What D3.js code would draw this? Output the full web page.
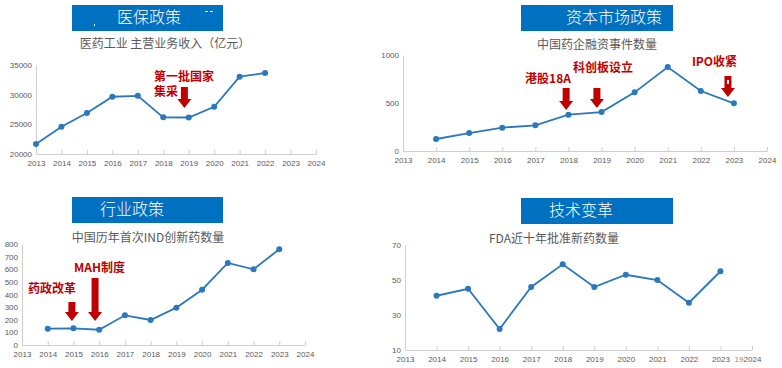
<!DOCTYPE html>
<html>
<head>
<meta charset="utf-8">
<script src="https://cdn.jsdelivr.net/npm/d3@7"></script>
<style>
  body { margin: 0; background: #fff; }
  svg { display: block; }
</style>
</head>
<body>
<svg id="chart" width="782" height="368"></svg>
<script>
// data
const years = [2013, 2014, 2015, 2016, 2017, 2018, 2019, 2020, 2021, 2022, 2023, 2024];

const revenueYears = [2013, 2014, 2015, 2016, 2017, 2018, 2019, 2020, 2021, 2022];
const revenueValues = [21700, 24600, 26900, 29650, 29800, 26180, 26150, 27970, 33030, 33650];
const revenueTicks = [20000, 25000, 30000, 35000];

const financeYears = [2014, 2015, 2016, 2017, 2018, 2019, 2020, 2021, 2022, 2023];
const financeValues = [125, 187, 243, 267, 378, 406, 611, 875, 625, 497];
const financeTicks = [0, 500, 1000];

const indYears = [2014, 2015, 2016, 2017, 2018, 2019, 2020, 2021, 2022, 2023];
const indValues = [129, 132, 121, 235, 198, 296, 438, 650, 600, 758];
const indTicks = [0, 100, 200, 300, 400, 500, 600, 700, 800];

const fdaYears = [2014, 2015, 2016, 2017, 2018, 2019, 2020, 2021, 2022, 2023];
const fdaValues = [41, 45, 22, 46, 59, 46, 53, 50, 37, 55];
const fdaTicks = [10, 30, 50, 70];

const panelTitles = ["医保政策", "资本市场政策", "行业政策", "技术变革"];
const chartTitles = [
  "医药工业 主营业务收入（亿元）",
  "中国药企融资事件数量",
  "中国历年首次IND创新药数量",
  "FDA近十年批准新药数量"
];

// annotations: [year, value] in chart units
const revenueNotes = [
  { text: "第一批国家", x: 2017.64, y: 32900 },
  { text: "集采", x: 2017.64, y: 30300 }
];
const revenueArrows = [{ x: 2018.83, top: 31300, bottom: 27750 }];

const financeNotes = [
  { text: "港股18A", x: 2016.69, y: 740 },
  { text: "科创板设立", x: 2018.14, y: 854 },
  { text: "IPO收紧", x: 2021.73, y: 917 }
];
const financeArrows = [
  { x: 2017.93, top: 656, bottom: 427 },
  { x: 2018.86, top: 656, bottom: 448 },
  { x: 2022.82, top: 781, bottom: 562 }
];

const indNotes = [
  { text: "药政改革", x: 2013.23, y: 436 },
  { text: "MAH制度", x: 2015.02, y: 602 }
];
const indArrows = [
  { x: 2014.94, top: 341, bottom: 190 },
  { x: 2015.84, top: 531, bottom: 190 }
];

const svg = d3.select("#chart");
const blue = "#2a78bd";
const red = "#c00000";
const axisColor = "#cfcfcf";
const labelColor = "#595959";
const cjk = "'Noto Sans CJK SC', 'Noto Sans', sans-serif";
const latin = "'Liberation Sans', Arial, sans-serif";

function drawPanel(opt) {
  const xScale = d3.scaleLinear().domain([2013, 2024]).range([opt.left, opt.right]);
  const yScale = d3
    .scaleLinear()
    .domain([opt.ticks[0], opt.ticks[opt.ticks.length - 1]])
    .range([opt.bottom, opt.top]);

  const g = svg.append("g");

  // title box
  g.append("rect")
    .attr("x", opt.box[0])
    .attr("y", opt.box[1])
    .attr("width", opt.box[2])
    .attr("height", opt.box[3])
    .attr("fill", "#0070c0");
  g.append("text")
    .attr("x", opt.boxTextX)
    .attr("y", opt.box[1] + opt.box[3] / 2 + 1)
    .attr("text-anchor", "middle")
    .attr("dominant-baseline", "middle")
    .attr("fill", "#fff")
    .style("font-family", cjk)
    .style("font-weight", "300")
    .style("font-size", "16px")
    .text(opt.panelTitle);

  g.append("text")
    .attr("x", opt.titleX)
    .attr("y", opt.titleY)
    .attr("text-anchor", "middle")
    .attr("dominant-baseline", "middle")
    .attr("fill", labelColor)
    .style("font-family", cjk)
    .style("font-size", "12px")
    .text(opt.chartTitle);

  // axes
  const xAxis = d3
    .axisBottom(xScale)
    .tickValues(years)
    .tickFormat(d3.format("d"))
    .tickSizeInner(-4)
    .tickSizeOuter(0)
    .tickPadding(6);
  const gx = g.append("g")
    .attr("transform", "translate(0," + opt.bottom + ")")
    .call(xAxis);

  const yAxis = d3
    .axisLeft(yScale)
    .tickValues(opt.ticks)
    .tickFormat(d3.format("d"))
    .tickSize(0)
    .tickPadding(4);
  const gy = g.append("g")
    .attr("transform", "translate(" + opt.left + ",0)")
    .call(yAxis);

  [gx, gy].forEach(a => {
    a.selectAll("path, line").attr("stroke", axisColor);
    a.selectAll("text")
      .attr("fill", labelColor)
      .style("font-family", latin)
      .style("font-size", "8px");
  });

  // line + points
  const points = opt.xs.map((x, i) => [x, opt.values[i]]);
  const line = d3.line().x(d => xScale(d[0])).y(d => yScale(d[1]));
  g.append("path")
    .datum(points)
    .attr("d", line)
    .attr("fill", "none")
    .attr("stroke", blue)
    .attr("stroke-width", 1.8);
  g.selectAll("circle")
    .data(points)
    .enter()
    .append("circle")
    .attr("cx", d => xScale(d[0]))
    .attr("cy", d => yScale(d[1]))
    .attr("r", 3)
    .attr("fill", blue);

  // annotations
  (opt.notes || []).forEach(n => {
    g.append("text")
      .attr("x", xScale(n.x))
      .attr("y", yScale(n.y))
      .attr("dominant-baseline", "middle")
      .attr("fill", red)
      .style("font-family", cjk)
      .style("font-weight", "bold")
      .style("font-size", "12px")
      .text(n.text);
  });
  (opt.arrows || []).forEach(a => {
    const cx = xScale(a.x),
      y0 = yScale(a.top),
      y1 = yScale(a.bottom),
      sw = 3.5,
      hw = 7,
      hh = 9;
    g.append("path")
      .attr("d",
        "M" + (cx - sw) + "," + y0 +
        "L" + (cx + sw) + "," + y0 +
        "L" + (cx + sw) + "," + (y1 - hh) +
        "L" + (cx + hw) + "," + (y1 - hh) +
        "L" + cx + "," + y1 +
        "L" + (cx - hw) + "," + (y1 - hh) +
        "L" + (cx - sw) + "," + (y1 - hh) + "Z")
      .attr("fill", red);
  });

  return { xScale, yScale, g };
}

const p1 = drawPanel({
  left: 36, right: 316, bottom: 154, top: 65,
  ticks: revenueTicks, xs: revenueYears, values: revenueValues,
  box: [72, 5, 151, 26], boxTextX: 149, panelTitle: panelTitles[0],
  titleX: 165, titleY: 45, chartTitle: chartTitles[0],
  notes: revenueNotes, arrows: revenueArrows
});

const p2 = drawPanel({
  left: 403, right: 767, bottom: 151, top: 55,
  ticks: financeTicks, xs: financeYears, values: financeValues,
  box: [521, 5, 152, 26], boxTextX: 614, panelTitle: panelTitles[1],
  titleX: 597, titleY: 46, chartTitle: chartTitles[1],
  notes: financeNotes, arrows: financeArrows
});

const p3 = drawPanel({
  left: 22, right: 305, bottom: 345, top: 244,
  ticks: indTicks, xs: indYears, values: indValues,
  box: [72, 197, 151, 26], boxTextX: 132, panelTitle: panelTitles[2],
  titleX: 148, titleY: 239, chartTitle: chartTitles[2],
  notes: indNotes, arrows: indArrows
});

const p4 = drawPanel({
  left: 405, right: 752, bottom: 350, top: 245,
  ticks: fdaTicks, xs: fdaYears, values: fdaValues,
  box: [521, 198, 152, 26], boxTextX: 581, panelTitle: panelTitles[3],
  titleX: 554, titleY: 240, chartTitle: chartTitles[3]
});

// small leftover marks from the source slide
p4.g.append("text")
  .attr("x", 739)
  .attr("y", 360)
  .attr("text-anchor", "middle")
  .attr("dominant-baseline", "middle")
  .attr("fill", "#8c8c8c")
  .style("font-family", latin)
  .style("font-size", "8px")
  .text("19");

[[205, 11, 3, 1], [210, 11, 3, 1], [94, 24, 1, 2]].forEach(r => {
  p1.g.append("rect")
    .attr("x", r[0]).attr("y", r[1])
    .attr("width", r[2]).attr("height", r[3])
    .attr("fill", "#fff");
});
p2.g.append("rect")
  .attr("x", p2.xScale(2022.82) - 1)
  .attr("y", p2.yScale(740))
  .attr("width", 2)
  .attr("height", 4)
  .attr("fill", "#fff");
</script>
</body>
</html>
